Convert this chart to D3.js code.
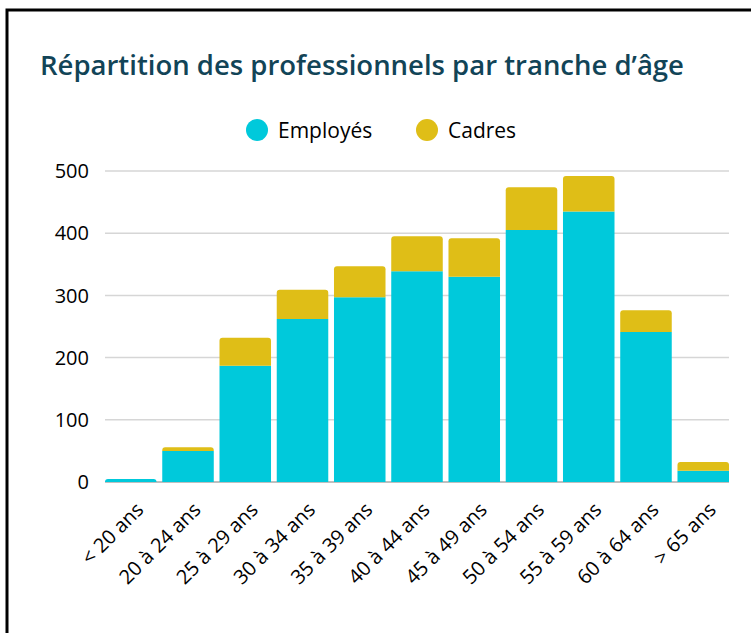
<!DOCTYPE html>
<html>
<head>
<meta charset="utf-8">
<script src="https://cdn.jsdelivr.net/npm/d3@7"></script>
<style>
  body { margin: 0; background: #fff; }
  svg { display: block; font-family: "Open Sans", Lato, sans-serif; }
</style>
</head>
<body>
<div id="chart"></div>
<script>
// Data
const categories = ["< 20 ans", "20 à 24 ans", "25 à 29 ans", "30 à 34 ans", "35 à 39 ans",
    "40 à 44 ans", "45 à 49 ans", "50 à 54 ans", "55 à 59 ans", "60 à 64 ans", "> 65 ans"];
const employes = [5, 50, 187, 262, 297, 339, 330, 405, 435, 241, 18];
const cadres = [0, 6, 45, 47, 50, 56, 62, 69, 57, 35, 14];
const seriesNames = ["Employés", "Cadres"];
const yTicks = [0, 100, 200, 300, 400, 500];

const width = 751;
const height = 633;
const margin = { top: 171, right: 22, bottom: 151, left: 105 };
const colors = { "Employés": "#00c9db", "Cadres": "#dfbe17" };

const svg = d3.select("#chart")
    .append("svg")
    .attr("width", width)
    .attr("height", height);

// Frame around the card
svg.append("rect")
    .attr("x", 7)
    .attr("y", 10)
    .attr("width", 800)
    .attr("height", 700)
    .attr("fill", "none")
    .attr("stroke", "#000")
    .attr("stroke-width", 3);

// Title
svg.append("text")
    .attr("x", 40)
    .attr("y", 75)
    .attr("fill", "#124457")
    .style("font-size", "27.5px")
    .style("font-weight", 600)
    .text("Répartition des professionnels par tranche d’âge");

const x = d3.scaleBand()
    .domain(categories)
    .range([margin.left, width - margin.right])
    .paddingInner(0.1)
    .paddingOuter(0);

const y = d3.scaleLinear()
    .domain([0, 500])
    .range([height - margin.bottom, margin.top]);

// Gridlines
svg.append("g")
    .selectAll("line")
    .data(yTicks)
    .join("line")
    .attr("x1", margin.left)
    .attr("x2", width - margin.right)
    .attr("y1", d => y(d))
    .attr("y2", d => y(d))
    .attr("stroke", d => d === 0 ? "#aaa" : "#d6d6d6")
    .attr("stroke-width", 1.5);

// Y labels
svg.append("g")
    .selectAll("text")
    .data(yTicks)
    .join("text")
    .attr("x", 89)
    .attr("y", d => y(d))
    .attr("dy", "0.36em")
    .attr("text-anchor", "end")
    .attr("fill", "#000")
    .style("font-size", "20px")
    .style("font-weight", 500)
    .text(d => d);

// Stacked bars
const rows = categories.map((c, i) => ({ cat: c, "Employés": employes[i], "Cadres": cadres[i] }));
const stack = d3.stack().keys(seriesNames)(rows);

// top-rounded rect path
function barPath(x0, y0, w, h, r) {
    r = Math.min(r, h, w / 2);
    return `M${x0},${y0 + h}V${y0 + r}Q${x0},${y0} ${x0 + r},${y0}H${x0 + w - r}Q${x0 + w},${y0} ${x0 + w},${y0 + r}V${y0 + h}Z`;
}

stack.forEach((layer, li) => {
    svg.append("g")
        .selectAll("path")
        .data(layer)
        .join("path")
        .attr("fill", colors[layer.key])
        .attr("d", (d, i) => {
            const h = y(d[0]) - y(d[1]);
            if (h <= 0) return null;
            // round only the topmost visible segment
            const isTop = li === stack.length - 1 || stack[li + 1][i][1] - stack[li + 1][i][0] === 0;
            return barPath(x(d.data.cat), y(d[1]), x.bandwidth(), h, isTop ? 3 : 0);
        });
});

// X labels, rotated
svg.append("g")
    .selectAll("text")
    .data(categories)
    .join("text")
    .attr("transform", d => `translate(${x(d) + x.bandwidth() / 2 + 14},${y(0) + 29}) rotate(-45)`)
    .attr("text-anchor", "end")
    .attr("fill", "#000")
    .style("font-size", "20px")
    .style("font-weight", 500)
    .text(d => d);

// Legend
const legend = svg.append("g");
const legendItems = [{ name: "Employés", cx: 257, tx: 278 }, { name: "Cadres", cx: 427, tx: 448 }];
legend.selectAll("circle")
    .data(legendItems)
    .join("circle")
    .attr("cx", d => d.cx)
    .attr("cy", 130)
    .attr("r", 11)
    .attr("fill", d => colors[d.name]);
legend.selectAll("text")
    .data(legendItems)
    .join("text")
    .attr("x", d => d.tx)
    .attr("y", 130)
    .attr("dy", "0.36em")
    .attr("fill", "#000")
    .style("font-size", "21px")
    .style("font-weight", 500)
    .text(d => d.name);
</script>
</body>
</html>
